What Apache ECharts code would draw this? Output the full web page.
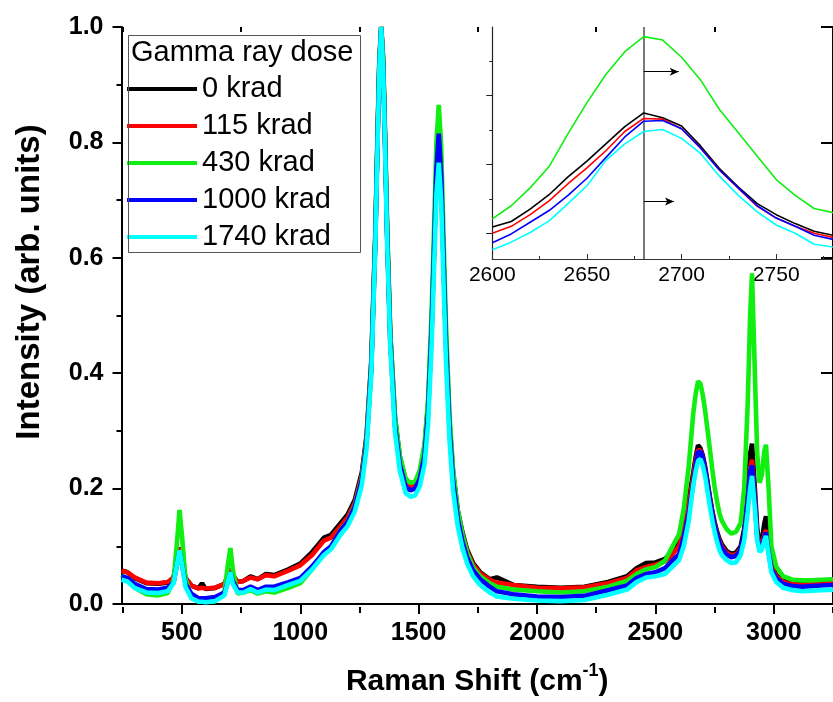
<!DOCTYPE html>
<html><head><meta charset="utf-8">
<script src="https://cdn.jsdelivr.net/npm/echarts@6/dist/echarts.min.js"></script>
<style>html,body{margin:0;padding:0;background:#fff}#c{width:833px;height:702px}</style>
</head><body><div id="c"></div>
<script>
// ---------------- data: main spectra ----------------
const wavenumber = [245,270,300,350,400,440,465,480,490,500, 515,540,570,585,600,640,680,695,705,715, 735,760,790,820,855,890,950,1000,1050,1080, 1100,1130,
  1170,1200,1230,1260,1280,1300,1317,1327,1334,1342, 1350,1357,1367,1380,1400,1420,1445,1465,1485,1505, 1525,1540,1555,1565,1575,1585,1595,1605,1615,1630, 1645,1665,1685,1705,1730,1760,1800,
  1830,1900,2000,2100,2200,2300,2380,2420,2460,2500,2540,2570,
  2600,2620,2640,2660,2670,2680,2690,2700,2710,2720, 2730,2740,2750,2760,2770,2780,
  2800,2820,2840,2860,2875,2890,2900,2908,2920,2930, 2940,2950,2960,2967,2978,2990,3010,3040,3080,3120, 3160,3200,3250];
const krad0 = [.058,.055,.045,.036,.035,.037,.046,.075,.098,.075, .045,.032,.027,.036,.026,.028,.035,.050,.060,.050, .038,.040,.048,.043,.052,.050,.060,.070,.090,.105, .115,.120,
  .140,.155,.180,.228,.292,.422,.642,.826,.942,1.0, .944,.829,.648,.470,.323,.256,.215,.208,.210,.228, .271,.347,.485,.617,.752,.812,.745,.602,.464,.317, .230,.163,.124,.094,.071,.055,.043,
  .046,.033,.030,.028,.030,.038,.048,.062,.071,.072,.078,.090,
  .108,.135,.180,.228,.255,.275,.270,.258,.238,.212, .186,.162,.142,.126,.113,.104,
  .092,.087,.089,.100,.130,.200,.260,.278,.200,.130, .105,.110,.140,.152,.100,.070,.050,.040,.036,.035, .035,.036,.037];
const krad115 = [.057,.055,.046,.037,.036,.038,.046,.075,.097,.075, .045,.032,.027,.028,.027,.028,.035,.050,.060,.050, .038,.040,.046,.043,.050,.048,.058,.067,.085,.100, .110,.115,
  .135,.150,.175,.222,.286,.415,.635,.820,.938,1.0, .940,.822,.640,.462,.316,.250,.210,.205,.207,.224, .266,.340,.476,.606,.742,.800,.735,.592,.455,.310, .225,.158,.120,.091,.068,.053,.042,
  .037,.033,.028,.027,.029,.036,.045,.058,.064,.068,.074,.085,
  .100,.127,.170,.220,.248,.267,.266,.253,.233,.207, .182,.158,.138,.122,.109,.100,
  .089,.084,.086,.095,.120,.180,.235,.250,.185,.120, .100,.105,.120,.128,.095,.065,.048,.038,.034,.033, .034,.035,.036];
const krad430 = [.050,.042,.028,.017,.015,.019,.042,.110,.163,.120, .045,.010,.005,.005,.004,.005,.022,.070,.097,.060, .018,.020,.024,.018,.022,.020,.028,.036,.060,.078, .088,.098,
  .128,.143,.170,.218,.284,.414,.636,.822,.940,1.0, .946,.832,.652,.472,.325,.258,.217,.210,.212,.232, .278,.355,.510,.650,.800,.865,.795,.640,.490,.330, .235,.163,.120,.088,.064,.048,.036,
  .030,.025,.022,.020,.022,.030,.040,.052,.060,.064,.075,.098,
  .121,.166,.236,.331,.364,.386,.382,.362,.335,.302, .268,.234,.203,.178,.158,.145,
  .130,.122,.125,.140,.200,.350,.500,.573,.400,.260, .210,.225,.265,.276,.200,.100,.065,.048,.042,.041, .041,.042,.043];
const krad1000 = [.048,.045,.035,.026,.025,.028,.037,.070,.093,.070, .035,.018,.010,.010,.010,.012,.020,.040,.055,.040, .024,.024,.030,.024,.030,.030,.038,.045,.065,.080, .090,.100,
  .127,.142,.168,.215,.279,.408,.628,.812,.932,1.0, .934,.816,.634,.456,.309,.243,.203,.197,.200,.217, .258,.332,.478,.612,.752,.815,.745,.598,.455,.305, .215,.148,.108,.080,.058,.043,.030,
  .022,.017,.013,.012,.014,.024,.032,.045,.052,.055,.062,.075,
  .086,.116,.155,.210,.240,.263,.264,.253,.232,.206, .180,.156,.136,.120,.106,.097,
  .086,.081,.083,.094,.120,.180,.230,.240,.180,.115, .095,.100,.115,.124,.090,.060,.045,.035,.031,.030, .031,.032,.033];
const krad1740 = [.042,.039,.028,.020,.019,.022,.036,.070,.093,.070, .030,.010,.004,.004,.003,.005,.015,.040,.055,.035, .020,.020,.026,.020,.025,.024,.033,.040,.060,.075, .085,.095,
  .120,.135,.160,.206,.270,.398,.620,.805,.928,1.0, .930,.810,.626,.446,.298,.232,.192,.186,.188,.204, .242,.312,.450,.580,.710,.765,.700,.560,.425,.285, .198,.135,.097,.070,.048,.033,.020,
  .013,.009,.006,.005,.007,.016,.025,.038,.046,.048,.052,.064,
  .076,.101,.143,.206,.230,.248,.251,.240,.221,.195, .169,.145,.125,.108,.094,.085,
  .076,.071,.072,.085,.110,.160,.200,.222,.165,.110, .090,.095,.110,.118,.085,.055,.038,.028,.024,.022, .023,.024,.025];

// ---------------- data: inset (2D band) ----------------
const insetShift = [2600,2610,2620,2630,2640,2650,2660,2670,2680,2690,2700,2710,2720,2730,2740,2750,2760,2770,2780];
const inset0    = [.109,.117,.135,.156,.182,.205,.230,.255,.275,.268,.256,.227,.194,.167,.143,.127,.114,.103,.097];
const inset115  = [.100,.110,.127,.147,.172,.195,.220,.248,.267,.266,.252,.224,.192,.165,.139,.122,.110,.100,.094];
const inset430  = [.121,.140,.166,.197,.245,.290,.331,.364,.386,.381,.356,.323,.280,.246,.212,.178,.155,.136,.130];
const inset1000 = [.086,.099,.116,.133,.155,.180,.210,.240,.263,.264,.252,.224,.192,.166,.140,.122,.110,.097,.091];
const inset1740 = [.076,.087,.101,.118,.143,.169,.206,.230,.248,.251,.238,.216,.183,.155,.131,.112,.100,.084,.080];

const seriesNames = ['0 krad','115 krad','430 krad','1000 krad','1740 krad'];
const mainValues = [krad0, krad115, krad430, krad1000, krad1740];
const insetValues = [inset0, inset115, inset430, inset1000, inset1740];
const seriesColors = ['#000000','#ff0000','#11ee11','#0000ff','#00ffff'];
const xMajorTicks = [500,1000,1500,2000,2500,3000];
const xMinorTicks = [250,750,1250,1750,2250,2750,3250];
const insetYMajor = [0.1,0.2,0.3];
const insetYMinor = [0.15,0.25,0.35];
const peakMarker = 2680;
const shiftArrows = [[2680,0.335,2698.5],[2680,0.146,2696]];
const legendTitle = 'Gamma ray dose';

// ---------------- fonts ----------------
const FONT = '"Liberation Sans", Arial, sans-serif';
function fontAvailable(name){
  const ctx = document.createElement('canvas').getContext('2d');
  const s = 'Raman Shift 0123456789';
  ctx.font = 'bold 40px monospace'; const a = ctx.measureText(s).width;
  ctx.font = 'bold 40px "' + name + '", monospace'; const b = ctx.measureText(s).width;
  return Math.abs(a - b) > 1;
}
const NARROW_OK = fontAvailable('Liberation Sans Narrow');
const NFONT = NARROW_OK ? '"Liberation Sans Narrow", "Liberation Sans", sans-serif' : FONT;
const tickSize = NARROW_OK ? 28 : 25;
const titleSize = NARROW_OK ? 36 : 30;
const supSize = NARROW_OK ? 21 : 18;
const insetSize = NARROW_OK ? 25 : 21;

// ---------------- chart ----------------
const chart = echarts.init(document.getElementById('c'), null, {renderer:'canvas'});
const mainRect = {left:121.5, top:27, width:719.2, height:580};
const insetRect = {left:492.3, top:27, width:357.5, height:232};
const pairs = (xs, ys) => xs.map((x,i)=>[x, ys[i]]);

const series = [];
seriesNames.forEach((n,i)=>{
  series.push({type:'line', name:n, xAxisIndex:0, yAxisIndex:0, data:pairs(wavenumber, mainValues[i]),
    symbol:'none', showSymbol:false, lineStyle:{color:seriesColors[i], width:4.6}, itemStyle:{color:seriesColors[i]},
    z:2+i, animation:false, silent:true});
});
seriesNames.forEach((n,i)=>{
  const s = {type:'line', name:n, xAxisIndex:4, yAxisIndex:3, data:pairs(insetShift, insetValues[i]),
    symbol:'none', showSymbol:false, lineStyle:{color:seriesColors[i], width:1.6}, itemStyle:{color:seriesColors[i]},
    z:10+i, animation:false, silent:true};
  if (i === 4) {
    s.markLine = {silent:true, animation:false, label:{show:false}, symbol:['none','none'],
      lineStyle:{color:'#7a7a7a', width:2, type:'solid'},
      data:[ {xAxis:peakMarker} ].concat(shiftArrows.map(a=>[
        {coord:[a[0],a[1]], symbol:'none', lineStyle:{color:'#000',width:1,type:'solid'}},
        {coord:[a[2],a[1]], symbol:'arrow', symbolSize:[6,9]}
      ]))};
  }
  series.push(s);
});

const option = {
  animation:false,
  backgroundColor:'#fff',
  grid:[
    Object.assign({}, mainRect),
    Object.assign({}, insetRect),
    Object.assign({}, mainRect),
    Object.assign({}, insetRect)
  ],
  xAxis:[
    {gridIndex:0, type:'value', position:'bottom', min:245, max:3250,
      axisLine:{lineStyle:{color:'#000', width:2}},
      axisTick:{customValues:xMajorTicks, length:10, lineStyle:{color:'#000', width:2}},
      axisLabel:{customValues:xMajorTicks, color:'#000', fontSize:tickSize, fontWeight:'bold', fontFamily:NFONT, margin:17, formatter:v=>String(v)},
      splitLine:{show:false},
      name:'{t|Raman Shift (cm}{s|-1}{t|)}', nameLocation:'middle', nameGap:58,
      nameTextStyle:{rich:{
        t:{fontSize:titleSize, fontWeight:'bold', fontFamily:NFONT, color:'#000', lineHeight:40},
        s:{fontSize:supSize, fontWeight:'bold', fontFamily:NFONT, color:'#000', verticalAlign:'top', lineHeight:22}
      }}},
    {gridIndex:0, type:'value', position:'top', min:245, max:3250,
      axisLine:{lineStyle:{color:'#000', width:2}},
      axisTick:{customValues:xMajorTicks, inside:true, length:8, lineStyle:{color:'#000', width:2}},
      axisLabel:{show:false}, splitLine:{show:false}},
    {gridIndex:2, type:'value', position:'bottom', min:245, max:3250,
      axisLine:{show:false},
      axisTick:{customValues:xMinorTicks, length:6, lineStyle:{color:'#000', width:2}},
      axisLabel:{show:false}, splitLine:{show:false}},
    {gridIndex:2, type:'value', position:'top', min:245, max:3250,
      axisLine:{show:false},
      axisTick:{customValues:xMinorTicks, inside:true, length:5, lineStyle:{color:'#000', width:2}},
      axisLabel:{show:false}, splitLine:{show:false}},
    {gridIndex:1, type:'value', position:'bottom', min:2600, max:2780, interval:50,
      axisLine:{lineStyle:{color:'#333', width:1.2}},
      axisTick:{inside:true, length:5, lineStyle:{color:'#333', width:1}},
      minorTick:{show:true, splitNumber:2, length:3, lineStyle:{color:'#333', width:1}},
      axisLabel:{color:'#000', fontSize:insetSize, fontFamily:NFONT, margin:6, showMaxLabel:false, formatter:v=>String(v)},
      splitLine:{show:false}},
    {gridIndex:3, type:'value', show:false, min:2600, max:2780}
  ],
  yAxis:[
    {gridIndex:0, type:'value', position:'left', min:0, max:1, interval:0.2,
      axisLine:{show:true, lineStyle:{color:'#000', width:2}},
      axisTick:{show:true, length:9, lineStyle:{color:'#000', width:2}},
      minorTick:{show:true, splitNumber:2, length:5, lineStyle:{color:'#000', width:2}},
      axisLabel:{color:'#000', fontSize:tickSize, fontWeight:'bold', fontFamily:NFONT, margin:18, formatter:v=>v.toFixed(1)},
      splitLine:{show:false}},
    {gridIndex:0, type:'value', position:'right', min:0, max:1, interval:0.2,
      axisLine:{show:true, lineStyle:{color:'#000', width:2}},
      axisTick:{show:true, inside:true, length:12, lineStyle:{color:'#000', width:2}},
      axisLabel:{show:false}, splitLine:{show:false}},
    {gridIndex:2, type:'value', show:false, min:0, max:1},
    {gridIndex:1, type:'value', position:'left', min:0.0625, max:0.4,
      axisLine:{show:true, lineStyle:{color:'#222', width:1.2}},
      axisTick:{show:true, customValues:insetYMajor, length:6, lineStyle:{color:'#222', width:1}},
      axisLabel:{show:false}, splitLine:{show:false}},
    {gridIndex:3, type:'value', position:'left', min:0.0625, max:0.4,
      axisLine:{show:false},
      axisTick:{show:true, customValues:insetYMinor, length:3, lineStyle:{color:'#222', width:1}},
      axisLabel:{show:false}, splitLine:{show:false}}
  ],
  legend:{orient:'vertical', left:127, top:70.5, padding:0, itemGap:0, itemWidth:70, itemHeight:4,
    icon:'rect', data:seriesNames, selectedMode:false,
    textStyle:{fontSize:29, fontFamily:FONT, color:'#000', lineHeight:37}},
  graphic:[
    {type:'rect', shape:{x:128.5, y:35.5, width:232, height:217}, style:{fill:'none', stroke:'#555', lineWidth:1}, z:5},
    {type:'text', x:131, y:53, style:{text:legendTitle, font:'29px '+FONT, fill:'#000', verticalAlign:'middle', align:'left'}, z:6},
    {type:'text', x:30, y:282, rotation:Math.PI/2, style:{text:'Intensity (arb. units)', font:'bold 33px '+FONT, fill:'#000', verticalAlign:'middle', align:'center'}, z:6}
  ],
  series:series
};
chart.setOption(option);
</script>
</body></html>
